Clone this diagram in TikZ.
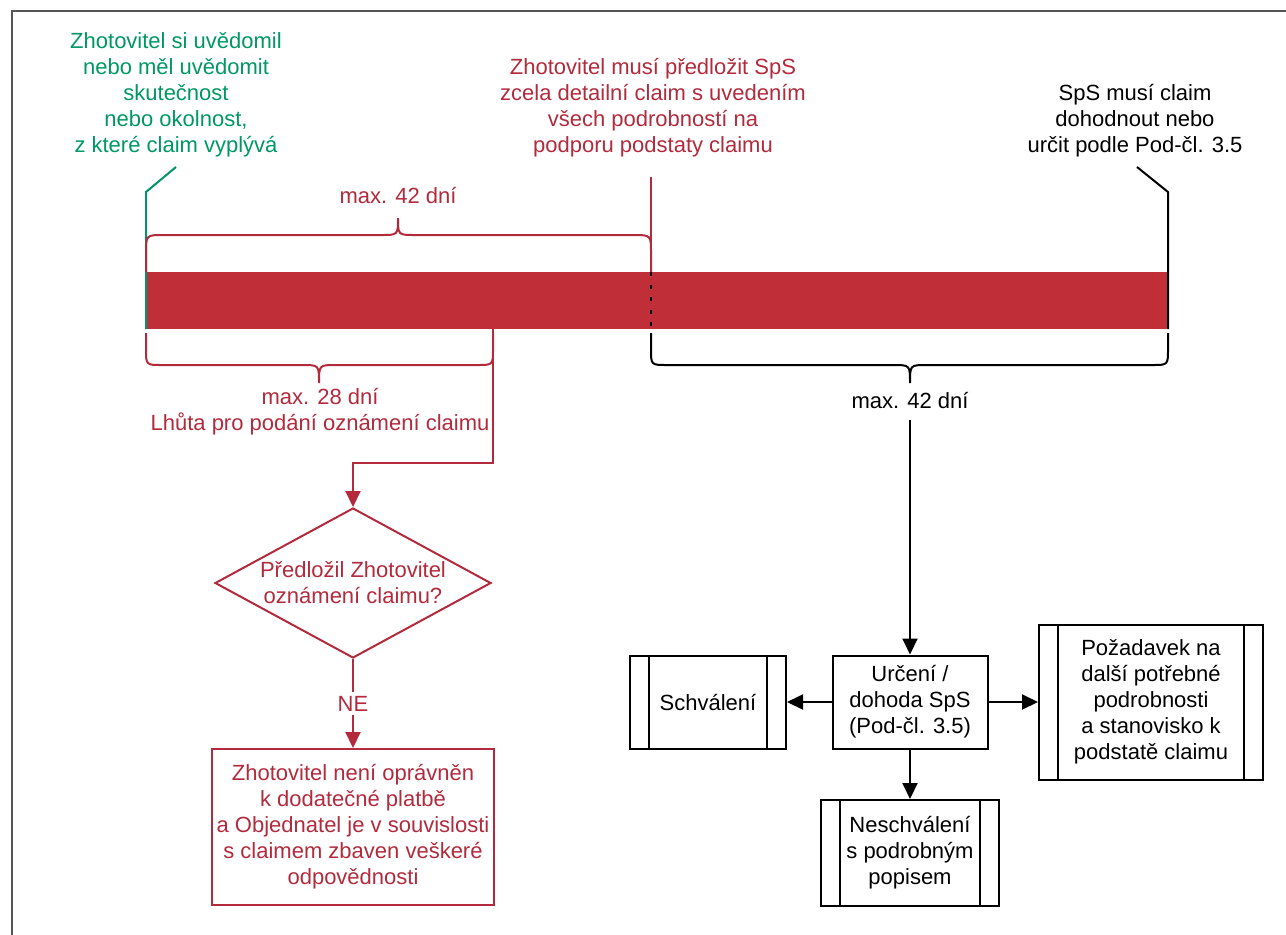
\documentclass[tikz,border=0pt]{standalone}
\usepackage{fontspec}
\setmainfont{Liberation Sans}
\usetikzlibrary{arrows.meta,shapes.geometric}
\definecolor{barred}{RGB}{192,47,56}
\definecolor{lred}{RGB}{178,42,60}
\definecolor{lgreen}{RGB}{0,152,98}
\definecolor{framegray}{RGB}{85,85,85}
\begin{document}
\begin{tikzpicture}[x=1pt,y=-1pt,
  txt/.style={font=\fontsize{22}{26}\selectfont, align=center, inner sep=0pt},
  ln/.style={line width=2pt},
  arr/.style={line width=2pt, -{Triangle[length=16pt,width=15pt]}},
  plainbox/.style={draw, line width=2pt, txt, inner sep=0pt},
  procbox/.style={plainbox, path picture={
    \draw[line width=2pt] ([xshift=19pt]path picture bounding box.north west) -- ([xshift=19pt]path picture bounding box.south west);
    \draw[line width=2pt] ([xshift=-19pt]path picture bounding box.north east) -- ([xshift=-19pt]path picture bounding box.south east);}},
]
\useasboundingbox (0,0) rectangle (1286,935);
\draw[line width=2.5pt, framegray] (12,935) -- (12,11) -- (1286,11);

% timeline bar
\fill[barred] (146,272) rectangle (1168,329);

% top texts
\node[txt, lgreen] (gtext) at (176,95) {Zhotovitel si uvědomil\\nebo měl uvědomit\\skutečnost\\nebo okolnost,\\z které claim vyplývá};
\node[txt, lred] (rtext) at (653,108) {Zhotovitel musí předložit SpS\\zcela detailní claim s uvedením\\všech podrobností na\\podporu podstaty claimu};
\node[txt] (ktext) at (1135,121) {SpS musí claim\\dohodnout nebo\\určit podle Pod-čl. 3.5};

\coordinate (g1) at (176,167);
\coordinate (g2) at (146,192);
\coordinate (g3) at (146,329);
\coordinate (r1) at (651,177);
\coordinate (r2) at (651,272);
\coordinate (r3) at (651,329);
\coordinate (k1) at (1137,167);
\coordinate (k2) at (1168,192);
\coordinate (k3) at (1168,329);

\draw[ln, lgreen] (g1) -- (g2) -- (g3);
\draw[ln, lred] (r1) -- (r2);
\draw[line width=2pt, dash pattern=on 4pt off 8.5pt] (r2) -- (r3);
\draw[ln] (k1) -- (k2) -- (k3);

% top brace (red)
\draw[ln, lred] (146,272) -- (146,253) .. controls (146,235) .. (164,235) -- (381,235) .. controls (398,235) .. (398,218) .. controls (398,235) .. (415,235) -- (633,235) .. controls (651,235) .. (651,253) -- (651,272);
\node[txt, lred] (top42) at (398,196) {max. 42 dní};

% bottom-left brace (red)
\draw[ln, lred] (146,333) -- (146,349) .. controls (146,365) .. (162,365) -- (302,365) .. controls (319,365) .. (319,383) .. controls (319,365) .. (336,365) -- (477,365) .. controls (493,365) .. (493,349) -- (493,333);
\node[txt, lred] (lbl28) at (320,412) {max. 28 dní\\Lhůta pro podání oznámení claimu};

% bottom-right brace (black)
\draw[ln] (651,333) -- (651,349) .. controls (651,365) .. (667,365) -- (893,365) .. controls (910,365) .. (910,383) .. controls (910,365) .. (927,365) -- (1152,365) .. controls (1168,365) .. (1168,349) -- (1168,333);
\node[txt] (lbl42) at (910,401) {max. 42 dní};

% left flow (red)
\node[diamond, draw=lred, line width=2pt, minimum width=276pt, minimum height=150pt, inner sep=0pt] (dia) at (353,583) {};
\node[txt, lred] (diatext) at (dia) {Předložil Zhotovitel\\oznámení claimu?};
\node[plainbox, draw=lred, text=lred, minimum width=282pt, minimum height=156pt] (nobox) at (353,827) {Zhotovitel není oprávněn\\k dodatečné platbě\\a Objednatel je v souvislosti\\s claimem zbaven veškeré\\odpovědnosti};

\coordinate (rs) at (493,329);
\draw[arr, lred] (rs) -- (493,463) -| (dia.north);
\draw[arr, lred] (dia.south) -- node[txt, fill=white, inner sep=4pt] {NE} (nobox.north);

% right flow (black)
\node[plainbox, minimum width=155pt, minimum height=93pt] (urc) at (910,702) {Určení /\\dohoda SpS\\(Pod-čl. 3.5)};
\node[procbox, minimum width=156pt, minimum height=93pt] (sch) at (708,702) {Schválení};
\node[procbox, minimum width=224pt, minimum height=155pt] (poz) at (1151,702) {Požadavek na\\další potřebné\\podrobnosti\\a stanovisko k\\podstatě claimu};
\node[procbox, minimum width=178pt, minimum height=106pt] (nes) at (910,853) {Neschválení\\s podrobným\\popisem};

\draw[arr] ([yshift=-11pt]lbl42.south) -- (urc.north);
\draw[arr] (urc.west) -- (sch.east);
\draw[arr] (urc.east) -- (poz.west);
\draw[arr] (urc.south) -- (nes.north);
\end{tikzpicture}
\end{document}
